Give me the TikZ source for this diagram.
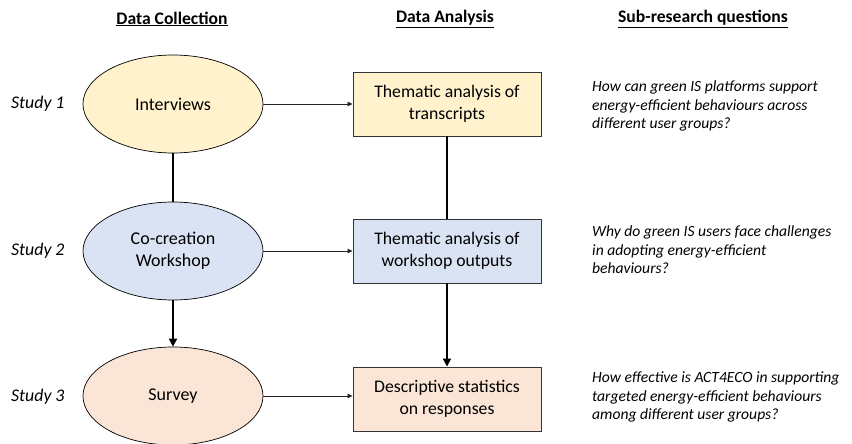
\documentclass[tikz,border=0pt]{standalone}
\usepackage{fontspec}
\setmainfont{Carlito}
\usetikzlibrary{arrows.meta,shapes.geometric}
\definecolor{yel}{HTML}{FFF2CC}
\definecolor{blu}{HTML}{DAE3F3}
\definecolor{pch}{HTML}{FBE5D6}
\begin{document}
\begin{tikzpicture}[x=1pt,y=-1pt,
  ell/.style={ellipse, draw=black, line width=0.7pt, minimum width=180pt, minimum height=98pt, inner sep=0pt, align=center, font=\fontsize{18}{22}\selectfont},
  boxnode/.style={rectangle, draw=black!80, line width=0.9pt, minimum width=188pt, minimum height=64pt, inner sep=0pt, align=center, font=\fontsize{17.7}{22}\selectfont},
  study/.style={anchor=west, inner sep=0pt, font=\fontsize{17.8}{20}\selectfont\itshape},
  quest/.style={anchor=west, inner sep=0pt, align=left, font=\fontsize{15.6}{18.6}\selectfont\itshape},
  hdr/.style={inner sep=0pt, font=\fontsize{17.6}{20}\selectfont\bfseries},
  thinarrow/.style={draw=black!85, line width=0.8pt, -{Triangle[length=5pt,width=4.5pt]}},
  thickline/.style={draw=black, line width=1.8pt},
  thickarrow/.style={draw=black, line width=1.8pt, -{Triangle[length=8pt,width=8pt]}}
]
\useasboundingbox (0,0) rectangle (852,444);
% headers
\node[hdr] (h1) at (172,19) {\underline{Data Collection}};
\node[hdr] (h2) at (445,19) {\underline{Data Analysis}};
\node[hdr] (h3) at (703,19) {\underline{Sub-research questions}};
% study labels
\node[study] (s1) at (11,104) {Study 1};
\node[study] (s2) at (11,251) {Study 2};
\node[study] (s3) at (11,397) {Study 3};
% ellipses
\node[ell, fill=yel] (e1) at (173,104) {Interviews};
\node[ell, fill=blu] (e2) at (173,251) {Co-creation\\Workshop};
\node[ell, fill=pch] (e3) at (173,396) {Survey};
% boxes
\node[boxnode, fill=yel] (b1) at (447,104) {Thematic analysis of\\transcripts};
\node[boxnode, fill=blu] (b2) at (447,251) {Thematic analysis of\\workshop outputs};
\node[boxnode, fill=pch] (b3) at (447,399) {Descriptive statistics\\on responses};
% questions
\node[quest] (q1) at (592,106) {How can green IS platforms support\\energy-efficient behaviours across\\different user groups?};
\node[quest] (q2) at (592,250) {Why do green IS users face challenges\\in adopting energy-efficient\\behaviours?};
\node[quest] (q3) at (592,397) {How effective is ACT4ECO in supporting\\targeted energy-efficient behaviours\\among different user groups?};
% connectors
\draw[thinarrow] (e1.east) -- (b1.west);
\draw[thinarrow] (e2.east) -- (b2.west);
\draw[thinarrow] (e3.east) -- (b3.west |- e3.east);
\draw[thickline] (e1.south) -- (e2.north);
\draw[thickarrow] (e2.south) -- (e3.north);
\draw[thickline] (b1.south) -- (b2.north);
\draw[thickarrow] (b2.south) -- (b3.north);
\end{tikzpicture}
\end{document}
